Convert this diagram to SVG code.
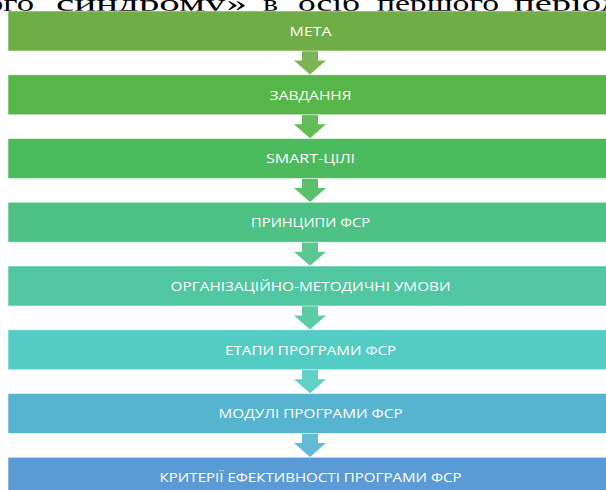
<svg xmlns="http://www.w3.org/2000/svg" width="606" height="490" viewBox="0 0 606 490">
  <style>
    .box { stroke: #ffffff; stroke-opacity: 0.55; stroke-width: 1; }
    .lbl { font-family: "Open Sans", "Liberation Sans", sans-serif; font-size: 13.5px; fill: #ffffff; text-anchor: middle; }
    .arr { fill-opacity: 0.92; }
    .top { font-family: "Liberation Serif", "Times New Roman", serif; font-size: 24px; fill: #000000; }
  </style>
  <rect x="0" y="0" width="606" height="490" fill="#ffffff"/>
  <text class="top" y="10.5"><tspan x="-14" textLength="48" lengthAdjust="spacingAndGlyphs">ого</tspan> <tspan x="56" textLength="191" lengthAdjust="spacingAndGlyphs">синдрому»</tspan> <tspan x="263" textLength="15" lengthAdjust="spacingAndGlyphs">в</tspan> <tspan x="298" textLength="62" lengthAdjust="spacingAndGlyphs">осіб</tspan> <tspan x="377" textLength="122" lengthAdjust="spacingAndGlyphs">першого</tspan> <tspan x="514" textLength="125" lengthAdjust="spacingAndGlyphs">періоду</tspan></text>

  <g id="connectors">
    <path class="arr" fill="#70AD47" d="M302,51 H318 V60.5 H326 L310,74.5 L294,60.5 H302 Z"/>
    <path class="arr" fill="#56B64A" d="M302,114.75 H318 V124.25 H326 L310,138.25 L294,124.25 H302 Z"/>
    <path class="arr" fill="#4CBB5E" d="M302,178.5 H318 V188 H326 L310,202 L294,188 H302 Z"/>
    <path class="arr" fill="#4EC284" d="M302,242.25 H318 V251.75 H326 L310,265.75 L294,251.75 H302 Z"/>
    <path class="arr" fill="#50C7A0" d="M302,306 H318 V315.5 H326 L310,329.5 L294,315.5 H302 Z"/>
    <path class="arr" fill="#53CCC4" d="M302,369.75 H318 V379.25 H326 L310,393.25 L294,379.25 H302 Z"/>
    <path class="arr" fill="#56B4D0" d="M302,433.5 H318 V443 H326 L310,457 L294,443 H302 Z"/>
  </g>

  <g id="node-meta">
    <rect class="box" x="8" y="11" width="600" height="40" fill="#70AD47"/>
    <text class="lbl" x="310.6" y="35.5" textLength="42" lengthAdjust="spacingAndGlyphs">МЕТА</text>
  </g>
  <g id="node-zavdannia">
    <rect class="box" x="8" y="74.75" width="600" height="40" fill="#56B64A"/>
    <text class="lbl" x="310.6" y="99.5" textLength="82" lengthAdjust="spacingAndGlyphs">ЗАВДАННЯ</text>
  </g>
  <g id="node-smart">
    <rect class="box" x="8" y="138.5" width="600" height="40" fill="#4CBB5E"/>
    <text class="lbl" x="310.6" y="163.25" textLength="89" lengthAdjust="spacingAndGlyphs">SMART-ЦІЛІ</text>
  </g>
  <g id="node-pryntsypy">
    <rect class="box" x="8" y="202.25" width="600" height="40" fill="#4EC284"/>
    <text class="lbl" x="310.6" y="227" textLength="119" lengthAdjust="spacingAndGlyphs">ПРИНЦИПИ ФСР</text>
  </g>
  <g id="node-umovy">
    <rect class="box" x="8" y="266" width="600" height="40" fill="#50C7A0"/>
    <text class="lbl" x="310.6" y="291" textLength="280" lengthAdjust="spacingAndGlyphs">ОРГАНІЗАЦІЙНО-МЕТОДИЧНІ УМОВИ</text>
  </g>
  <g id="node-etapy">
    <rect class="box" x="8" y="329.75" width="600" height="40" fill="#53CCC4"/>
    <text class="lbl" x="310.6" y="354.5" textLength="171" lengthAdjust="spacingAndGlyphs">ЕТАПИ ПРОГРАМИ ФСР</text>
  </g>
  <g id="node-moduli">
    <rect class="box" x="8" y="393.5" width="600" height="40" fill="#56B4D0"/>
    <text class="lbl" x="310.6" y="418.25" textLength="184" lengthAdjust="spacingAndGlyphs">МОДУЛІ ПРОГРАМИ ФСР</text>
  </g>
  <g id="node-kryterii">
    <rect class="box" x="8" y="457.25" width="600" height="40" fill="#5B9BD5"/>
    <text class="lbl" x="310.6" y="481.75" textLength="302" lengthAdjust="spacingAndGlyphs">КРИТЕРІЇ ЕФЕКТИВНОСТІ ПРОГРАМИ ФСР</text>
  </g>
</svg>
